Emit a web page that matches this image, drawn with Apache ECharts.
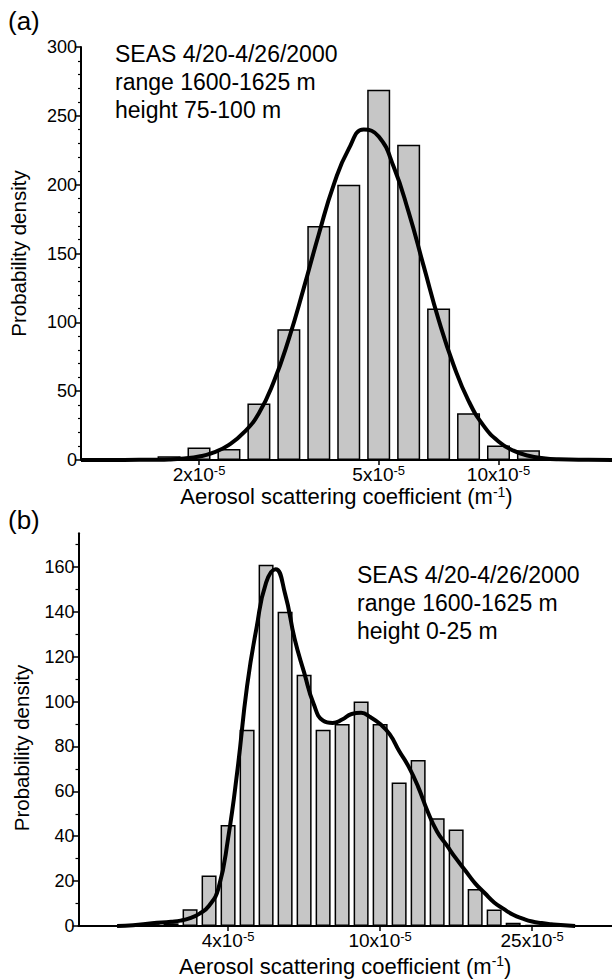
<!DOCTYPE html>
<html>
<head>
<meta charset="utf-8">
<script src="https://cdn.jsdelivr.net/npm/echarts@6/dist/echarts.min.js"></script>
<style>
html,body{margin:0;padding:0;background:#fff;}
#chart{width:612px;height:979px;}
</style>
</head>
<body>
<div id="chart"></div>
<script>
// ---------- Panel (a): height 75-100 m ----------
const topBins = [-3, -2, -1, 0, 1, 2, 3, 4, 5, 6, 7, 8, 9, 10, 11];
const topDensity = [0.8, 1.2, 2.8, 9, 8, 41, 95, 170, 200, 269, 229, 110, 34, 10.5, 7];
const topFitX = [-3.94, -3, -2, -1.5, -1, -0.5, 0, 0.5, 1, 1.5, 2, 2.5, 3, 3.5, 4, 4.5, 5, 5.5, 6, 6.5, 7, 7.5, 8, 8.5, 9, 9.5, 10, 10.5, 11, 11.5, 12, 13, 13.79];
const topFitY = [0, 0, 0.1, 0.2, 0.4, 1.1, 2.5, 5.5, 11, 20, 34, 57, 88, 125, 164, 200, 226, 240, 235, 213, 180, 141, 102, 69, 43, 25, 13.5, 6.8, 3.1, 1.3, 0.5, 0.1, 0];
const topTickPos = [0, 6, 10];
const topTickLabels = ['2x10^-5', '5x10^-5', '10x10^-5'];
const topText = ['SEAS 4/20-4/26/2000', 'range 1600-1625 m', 'height 75-100 m'];

// ---------- Panel (b): height 0-25 m ----------
const botBins = [-3, -2, -1, 0, 1, 2, 3, 4, 5, 6, 7, 8, 9, 10, 11, 12, 13, 14, 15, 16, 17, 18];
const botDensity = [0.3, 0.8, 1.2, 7.5, 22.5, 45, 87.5, 161, 140, 112, 87.5, 90, 100, 90, 64, 74, 48, 43, 16.5, 7.4, 1.5, 0.5];
const botFitX = [-3.84, -3, -2, -1, -0.5, 0, 0.5, 1, 1.5, 2, 2.5, 3, 3.5, 4, 4.5, 5, 5.5, 6, 6.5, 7, 7.5, 8, 8.5, 9, 9.5, 10, 10.5, 11, 11.5, 12, 12.5, 13, 13.5, 14, 14.5, 15, 15.5, 16, 16.5, 17, 17.5, 18, 18.5, 19, 19.5, 20.26];
const botFitY = [0, 0.3, 1.2, 1.9, 2.4, 3.5, 5.5, 9, 17, 39, 70, 107, 133, 153, 159, 148, 128, 113, 99, 91.5, 90.5, 92, 94.5, 95, 93, 90, 85.5, 78, 71, 62, 51, 42, 36, 30, 24.5, 19, 14.7, 10.5, 7.6, 5, 3.3, 2, 1.3, 0.8, 0.4, 0];
const botTickPos = [2, 10, 18];
const botTickLabels = ['4x10^-5', '10x10^-5', '25x10^-5'];
const botText = ['SEAS 4/20-4/26/2000', 'range 1600-1625 m', 'height 0-25 m'];

const yLabelsTop = [0, 50, 100, 150, 200, 250, 300];
const yLabelsBot = [0, 20, 40, 60, 80, 100, 120, 140, 160];
const yMinorBot = [10, 30, 50, 70, 90, 110, 130, 150, 170];
const yTitle = 'Probability density';

const FONT = 'Liberation Sans';
const supRich = {
  n: {fontFamily: FONT, fontSize: 19, color: '#000', lineHeight: 21},
  s: {fontFamily: FONT, fontSize: 13, color: '#000', verticalAlign: 'top', lineHeight: 12}
};
const nameRich = {
  n: {fontFamily: FONT, fontSize: 22, color: '#000', lineHeight: 24},
  s: {fontFamily: FONT, fontSize: 14, color: '#000', verticalAlign: 'top', lineHeight: 13}
};
function supLabel(str) {
  const p = str.split('^');
  return '{n|' + p[0] + '}{s|' + p[1] + '}';
}
function tickFormatter(pos, labels) {
  return function (v) {
    const i = pos.findIndex(p => Math.abs(p - v) < 1e-6);
    return i >= 0 ? supLabel(labels[i]) : '';
  };
}

const chart = echarts.init(document.getElementById('chart'), null, {renderer: 'svg'});

function xAxisCfg(gridIndex, min, max, pos, labels, nameGap) {
  return {
    type: 'value', gridIndex, min, max,
    axisLine: {show: true, onZero: false, lineStyle: {color: '#000', width: 2}},
    axisTick: {show: true, customValues: pos, length: 5, lineStyle: {color: '#000', width: 1.5}},
    axisLabel: {customValues: pos, formatter: tickFormatter(pos, labels), rich: supRich, margin: 4, color: '#000'},
    splitLine: {show: false},
    name: '{n|Aerosol scattering coefficient (m}{s|-1}{n|)}',
    nameLocation: 'middle', nameGap: nameGap,
    nameTextStyle: {rich: nameRich}
  };
}

const yLabelStyle = {fontFamily: FONT, fontSize: 18, color: '#000', margin: 4};

const option = {
  backgroundColor: '#fff',
  animation: false,
  grid: [
    {left: 78.5, right: 0, top: 47, height: 413},
    {left: 78.5, right: 0, top: 533.3, height: 392.7}
  ],
  xAxis: [
    xAxisCfg(0, -3.94, 13.79, topTickPos, topTickLabels, 21),
    xAxisCfg(1, -5.87, 22.2, botTickPos, botTickLabels, 28)
  ],
  yAxis: [
    {
      type: 'value', gridIndex: 0, min: 0, max: 300, interval: 50,
      axisLine: {show: true, onZero: false, lineStyle: {color: '#000', width: 2}},
      axisTick: {show: true, length: 6, lineStyle: {color: '#000', width: 1.5}},
      minorTick: {show: true, splitNumber: 5, length: 3, lineStyle: {color: '#000', width: 1.2}},
      axisLabel: Object.assign({customValues: yLabelsTop}, yLabelStyle),
      splitLine: {show: false},
      name: yTitle, nameLocation: 'middle', nameGap: 52,
      nameTextStyle: {fontFamily: FONT, fontSize: 20.5, color: '#000'}
    },
    {
      type: 'value', gridIndex: 1, min: 0, max: 175, interval: 10,
      axisLine: {show: true, onZero: false, lineStyle: {color: '#000', width: 2}},
      axisTick: {show: true, customValues: yLabelsBot, length: 6, lineStyle: {color: '#000', width: 1.5}},
      axisLabel: Object.assign({customValues: yLabelsBot}, yLabelStyle),
      splitLine: {show: false}
    },
    {
      type: 'value', gridIndex: 1, min: 0, max: 175, interval: 10, position: 'left',
      axisLine: {show: false, onZero: false},
      axisTick: {show: true, customValues: yMinorBot, length: 3, lineStyle: {color: '#000', width: 1.2}},
      axisLabel: {show: false},
      splitLine: {show: false}
    }
  ],
  series: [
    {
      type: 'bar', xAxisIndex: 0, yAxisIndex: 0, barWidth: 23,
      data: topBins.map((b, i) => [b, topDensity[i]]),
      itemStyle: {color: '#c6c6c6', borderColor: '#000', borderWidth: 1.5}
    },
    {
      type: 'line', xAxisIndex: 0, yAxisIndex: 0, smooth: 0.5, showSymbol: false,
      data: topFitX.map((x, i) => [x, topFitY[i]]),
      lineStyle: {color: '#000', width: 4}, z: 5
    },
    {
      type: 'bar', xAxisIndex: 1, yAxisIndex: 1, barWidth: 15,
      data: botBins.map((b, i) => [b, botDensity[i]]),
      itemStyle: {color: '#c6c6c6', borderColor: '#000', borderWidth: 1.5}
    },
    {
      type: 'line', xAxisIndex: 1, yAxisIndex: 1, smooth: 0.5, showSymbol: false,
      data: botFitX.map((x, i) => [x, botFitY[i]]),
      lineStyle: {color: '#000', width: 4}, z: 5
    }
  ],
  graphic: [
    {type: 'text', left: 8, top: 8, style: {text: '(a)', fontFamily: FONT, fontSize: 26, fill: '#000'}},
    {type: 'text', left: 8, top: 507, style: {text: '(b)', fontFamily: FONT, fontSize: 26, fill: '#000'}},
    {type: 'text', left: 115, top: 40, style: {text: topText.join('\n'), fontFamily: FONT, fontSize: 23, lineHeight: 28, fill: '#000'}},
    {type: 'text', left: 357, top: 561, style: {text: botText.join('\n'), fontFamily: FONT, fontSize: 23, lineHeight: 28, fill: '#000'}},
    {type: 'text', x: 21, y: 748, rotation: Math.PI / 2,
     style: {text: yTitle, fontFamily: FONT, fontSize: 20.5, fill: '#000', align: 'center', verticalAlign: 'middle'}}
  ]
};
chart.setOption(option);
</script>
</body>
</html>
